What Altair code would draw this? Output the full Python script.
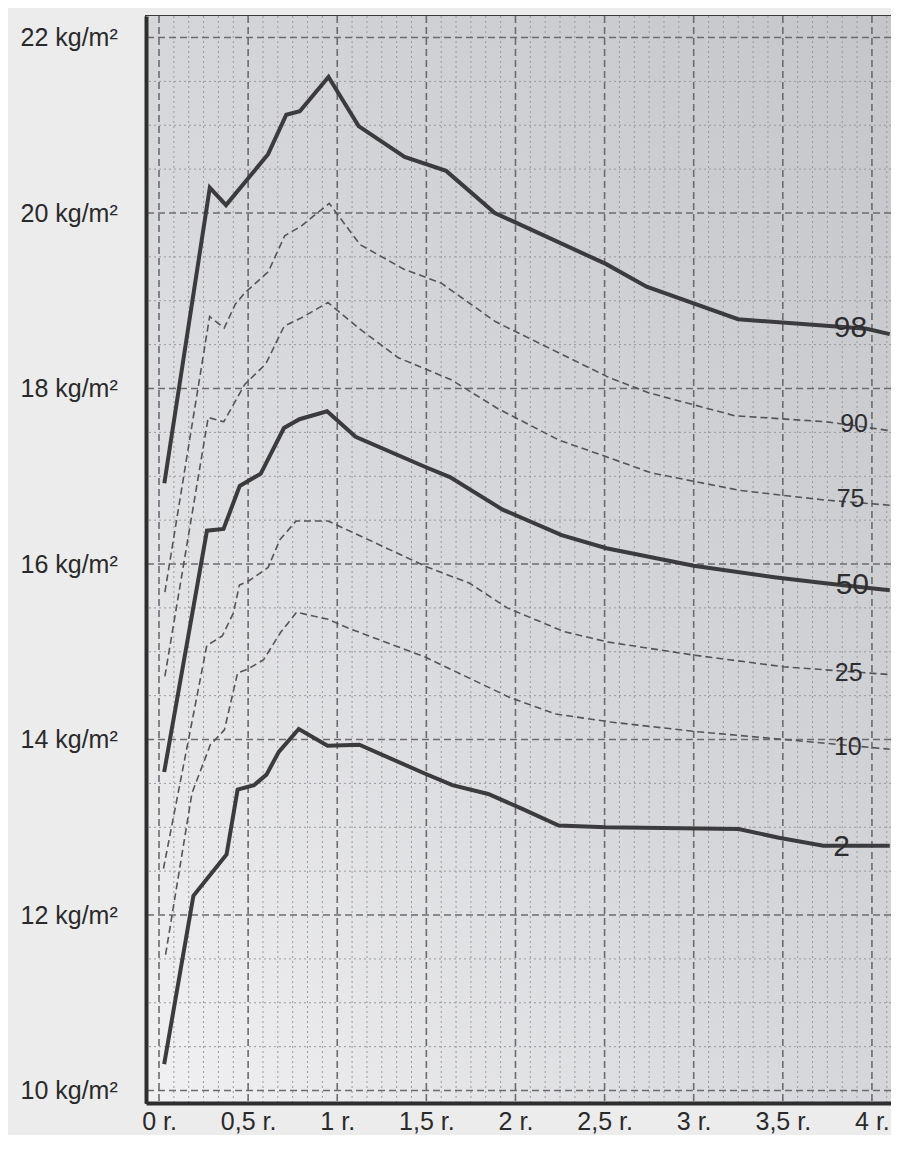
import altair as alt
import pandas as pd

# ---- percentile curves (age in years, BMI in kg/m²) ----
ages_98 = [0.03, 0.285, 0.376, 0.612, 0.714, 0.79, 0.951, 1.12, 1.378, 1.611, 1.884, 2.507, 2.736, 3.249, 3.97, 4.1]
bmi_98 = [16.92, 20.29, 20.09, 20.67, 21.12, 21.16, 21.55, 20.99, 20.64, 20.48, 20.0, 19.42, 19.16, 18.79, 18.68, 18.62]

ages_90 = [0.033, 0.284, 0.366, 0.428, 0.481, 0.613, 0.705, 0.797, 0.955, 1.128, 1.374, 1.584, 1.889, 2.52, 2.749, 3.23, 3.747, 4.1]
bmi_90 = [15.68, 18.82, 18.69, 18.96, 19.09, 19.33, 19.74, 19.85, 20.11, 19.64, 19.36, 19.2, 18.76, 18.13, 17.95, 17.69, 17.62, 17.52]

ages_75 = [0.033, 0.276, 0.363, 0.482, 0.599, 0.702, 0.794, 0.948, 1.125, 1.343, 1.639, 1.902, 2.246, 2.5, 2.759, 3.256, 3.731, 4.1]
bmi_75 = [14.72, 17.67, 17.62, 18.05, 18.28, 18.71, 18.8, 18.98, 18.68, 18.35, 18.1, 17.77, 17.41, 17.23, 17.04, 16.84, 16.73, 16.67]

ages_50 = [0.029, 0.269, 0.362, 0.453, 0.571, 0.701, 0.788, 0.943, 1.103, 1.501, 1.632, 1.928, 2.259, 2.51, 3.0, 3.453, 3.738, 4.1]
bmi_50 = [13.63, 16.38, 16.4, 16.89, 17.03, 17.55, 17.65, 17.74, 17.45, 17.1, 16.99, 16.62, 16.33, 16.18, 15.98, 15.85, 15.78, 15.7]

ages_25 = [0.025, 0.268, 0.355, 0.417, 0.451, 0.505, 0.612, 0.679, 0.769, 0.949, 1.5, 1.743, 1.954, 2.272, 2.522, 3.007, 3.5, 4.1]
bmi_25 = [12.53, 15.07, 15.18, 15.44, 15.76, 15.81, 15.96, 16.28, 16.49, 16.49, 15.97, 15.78, 15.5, 15.23, 15.11, 14.96, 14.83, 14.74]

ages_10 = [0.037, 0.185, 0.288, 0.367, 0.441, 0.496, 0.587, 0.682, 0.772, 0.948, 1.061, 1.493, 1.741, 1.967, 2.227, 2.532, 3.015, 3.509, 4.1]
bmi_10 = [11.55, 13.39, 13.94, 14.11, 14.76, 14.8, 14.91, 15.22, 15.45, 15.37, 15.27, 14.94, 14.7, 14.48, 14.29, 14.2, 14.09, 14.0, 13.89]

ages_2 = [0.029, 0.193, 0.379, 0.441, 0.533, 0.603, 0.672, 0.784, 0.946, 1.124, 1.494, 1.646, 1.847, 2.038, 2.243, 2.506, 3.252, 3.478, 3.727, 4.1]
bmi_2 = [10.3, 12.22, 12.69, 13.43, 13.48, 13.6, 13.86, 14.12, 13.93, 13.94, 13.61, 13.48, 13.38, 13.21, 13.02, 13.0, 12.98, 12.88, 12.79, 12.79]

# ---- curve labels ----
label_text = ["98", "90", "75", "50", "25", "10", "2"]
label_age = [3.88, 3.9, 3.88, 3.89, 3.87, 3.865, 3.83]
label_bmi = [18.69, 17.6, 16.74, 15.76, 14.76, 13.91, 12.77]
label_thick = [True, False, False, True, False, False, True]

# ---- axes ----
x_tick_values = [0, 0.5, 1, 1.5, 2, 2.5, 3, 3.5, 4]
x_tick_labels = ["0 r.", "0,5 r.", "1 r.", "1,5 r.", "2 r.", "2,5 r.", "3 r.", "3,5 r.", "4 r."]
y_tick_values = [10, 12, 14, 16, 18, 20, 22]
y_tick_labels = ["10 kg/m²", "12 kg/m²", "14 kg/m²", "16 kg/m²", "18 kg/m²", "20 kg/m²", "22 kg/m²"]
x_minor = [k / 12 for k in range(50) if k % 6 != 0]
y_minor = [10 + k * 0.5 for k in range(25) if k % 4 != 0]

X_DOMAIN = [-0.073, 4.107]
Y_DOMAIN = [9.858, 22.245]
FONT = "Liberation Sans"


def label_expr(values, labels):
    return " : ".join(f"datum.value == {v} ? '{l}'" for v, l in zip(values, labels)) + " : ''"


curves = [
    ("98", ages_98, bmi_98, "thick"),
    ("90", ages_90, bmi_90, "thin"),
    ("75", ages_75, bmi_75, "thin"),
    ("50", ages_50, bmi_50, "thick"),
    ("25", ages_25, bmi_25, "thin"),
    ("10", ages_10, bmi_10, "thin"),
    ("2", ages_2, bmi_2, "thick"),
]
rows = []
for name, ages, vals, style in curves:
    for a, v in zip(ages, vals):
        rows.append({"pc": name, "age": a, "bmi": v, "style": style})
df = pd.DataFrame(rows)

lab = pd.DataFrame({"text": label_text, "age": label_age, "bmi": label_bmi, "thick": label_thick})

xscale = alt.Scale(domain=X_DOMAIN, nice=False, zero=False)
yscale = alt.Scale(domain=Y_DOMAIN, nice=False, zero=False)

x_axis = alt.Axis(values=x_tick_values, labelExpr=label_expr(x_tick_values, x_tick_labels),
                  grid=False, ticks=False, domain=True, domainWidth=4, domainColor="#2e2e2e",
                  labelFont=FONT, labelFontSize=25, labelColor="#2a2a2a", labelPadding=6,
                  title=None, zindex=1, labelFlush=False, labelOverlap=False)
y_axis = alt.Axis(values=y_tick_values, labelExpr=label_expr(y_tick_values, y_tick_labels),
                  grid=False, ticks=False, domain=True, domainWidth=4, domainColor="#2e2e2e",
                  labelFont=FONT, labelFontSize=25, labelColor="#2a2a2a", labelAlign="left",
                  labelBaseline="middle", labelPadding=126, title=None, zindex=1,
                  labelFlush=False, labelOverlap=False)

bg_df = pd.DataFrame({"x": [X_DOMAIN[0]], "x2": [X_DOMAIN[1]], "y": [Y_DOMAIN[0]], "y2": [Y_DOMAIN[1]]})
bg = alt.Chart(bg_df).mark_rect(
    fill=alt.LinearGradient(
        gradient="linear", x1=0, y1=1, x2=1, y2=0,
        stops=[alt.GradientStop(offset=0, color="#f1f1f3"),
               alt.GradientStop(offset=0.45, color="#d7d8db"),
               alt.GradientStop(offset=1, color="#c5c6ca")]),
    stroke=None,
).encode(
    x=alt.X("x:Q", scale=xscale, axis=x_axis),
    x2="x2:Q",
    y=alt.Y("y:Q", scale=yscale, axis=y_axis),
    y2="y2:Q",
)

minor_v = alt.Chart(pd.DataFrame({"x": x_minor})).mark_rule(
    color="#9a9a9e", strokeWidth=1, strokeDash=[2, 3]).encode(x=alt.X("x:Q", scale=xscale))
minor_h = alt.Chart(pd.DataFrame({"y": y_minor})).mark_rule(
    color="#9a9a9e", strokeWidth=1, strokeDash=[2, 3]).encode(y=alt.Y("y:Q", scale=yscale))
major_v = alt.Chart(pd.DataFrame({"x": x_tick_values})).mark_rule(
    color="#6c6c70", strokeWidth=1.6, strokeDash=[7, 4]).encode(x=alt.X("x:Q", scale=xscale))
major_h = alt.Chart(pd.DataFrame({"y": y_tick_values})).mark_rule(
    color="#6c6c70", strokeWidth=1.6, strokeDash=[7, 4]).encode(y=alt.Y("y:Q", scale=yscale))

thick = alt.Chart(df).transform_filter(alt.datum.style == "thick").mark_line(
    color="#3b3b3d", strokeWidth=4, strokeJoin="miter", clip=True).encode(
    x=alt.X("age:Q", scale=xscale), y=alt.Y("bmi:Q", scale=yscale), detail="pc:N")
thin = alt.Chart(df).transform_filter(alt.datum.style == "thin").mark_line(
    color="#555558", strokeWidth=1.6, strokeDash=[7, 4], clip=True).encode(
    x=alt.X("age:Q", scale=xscale), y=alt.Y("bmi:Q", scale=yscale), detail="pc:N")

lab_thick = alt.Chart(lab).transform_filter(alt.datum.thick == True).mark_text(
    font=FONT, fontSize=30, color="#2e2e30", align="center", baseline="middle").encode(
    x=alt.X("age:Q", scale=xscale), y=alt.Y("bmi:Q", scale=yscale), text="text:N")
lab_thin = alt.Chart(lab).transform_filter(alt.datum.thick == False).mark_text(
    font=FONT, fontSize=25, color="#2e2e30", align="center", baseline="middle").encode(
    x=alt.X("age:Q", scale=xscale), y=alt.Y("bmi:Q", scale=yscale), text="text:N")

chart = alt.layer(bg, minor_v, minor_h, major_v, major_h, thin, thick, lab_thin, lab_thick).properties(
    width=745, height=1087,
    autosize=alt.AutoSizeParams(type="none"),
    padding={"left": 138, "top": 8, "right": 0, "bottom": 32},
    background="#ececec",
).configure_view(stroke="#3a3a3c", strokeWidth=2)

chart.save("out.html", embed_options={"renderer": "svg", "actions": False})
